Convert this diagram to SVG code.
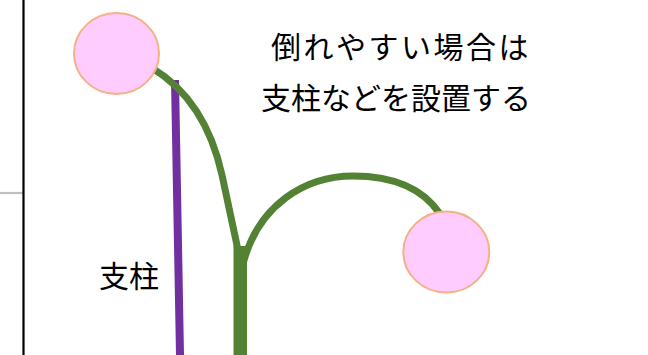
<svg xmlns="http://www.w3.org/2000/svg" width="648" height="355" viewBox="0 0 648 355">
  <style>
    .flower { fill: #ffccff; stroke: #f4b183; stroke-width: 2; }
    .stem { fill: none; stroke: #548235; stroke-width: 7; }
    .label { font-family: "Noto Sans CJK JP", "Noto Sans", sans-serif; font-size: 30px; fill: #000; }
  </style>
  <rect width="648" height="355" fill="#fff"/>

  <!-- frame lines -->
  <line x1="0" y1="193" x2="23" y2="193" stroke="#bfbfbf" stroke-width="2.2"/>
  <line x1="23.5" y1="0" x2="23.5" y2="355" stroke="#000" stroke-width="2.2"/>
  <text x="-4" y="298" font-family="Noto Sans, sans-serif" font-size="11" fill="#444">:</text>

  <!-- support pole -->
  <g id="pole">
    <line x1="175" y1="80" x2="180" y2="355" stroke="#7030a0" stroke-width="8"/>
  </g>

  <!-- stems -->
  <g id="connectors">
    <path class="stem" d="M152,68 C192,92 212,130 222,175 L238,250"/>
    <path class="stem" d="M243,264 C258,205 305,176 353,176 C395,176 424,190 440,214"/>
    <rect x="233.5" y="246" width="13.5" height="109" fill="#548235"/>
  </g>

  <g id="flower-top">
    <ellipse class="flower" cx="116.5" cy="53.5" rx="42.5" ry="40.5"/>
  </g>
  <g id="flower-right">
    <ellipse class="flower" cx="446.3" cy="252" rx="43" ry="40.5"/>
  </g>

  <g id="note">
    <text class="label" x="401" y="58" text-anchor="middle" letter-spacing="2.5">倒れやすい場合は</text>
    <text class="label" x="396" y="109" text-anchor="middle">支柱などを設置する</text>
  </g>
  <g id="pole-label">
    <text class="label" x="129" y="287" text-anchor="middle">支柱</text>
  </g>
</svg>
